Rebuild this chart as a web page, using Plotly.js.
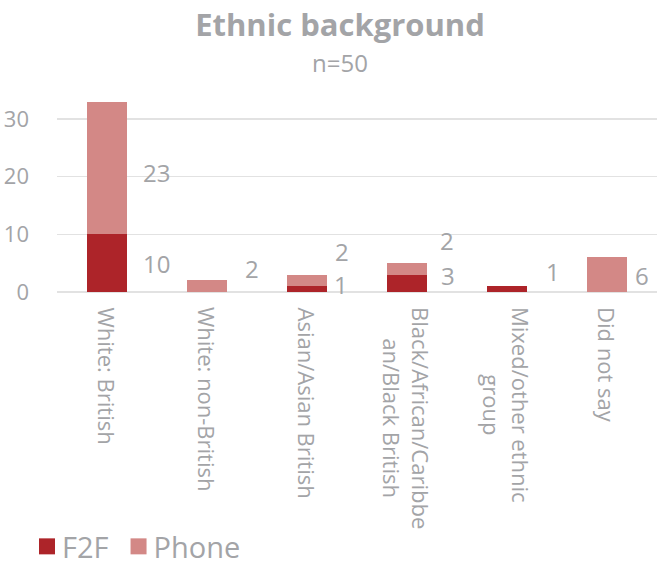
<!DOCTYPE html>
<html>
<head>
<meta charset="utf-8">
<script src="https://cdn.plot.ly/plotly-3.0.1.min.js"></script>
<style>html,body{margin:0;padding:0;background:#fff;}#chart{width:657px;height:572px;}</style>
</head>
<body>
<div id="chart"></div>
<script>
// ---- data ----
const categories = ['White: British', 'White: non-British', 'Asian/Asian British', 'Black/African/Caribbe<br>an/Black British', 'Mixed/other ethnic<br>group', 'Did not say'];
const f2fValues = [10, 0, 1, 3, 1, 0];
const phoneValues = [23, 2, 2, 2, 0, 6];
const seriesNames = ['F2F', 'Phone'];
const yTickValues = [0, 10, 20, 30];
const titleText = 'Ethnic background';
const subtitleText = 'n=50';

// ---- style ----
const FONT = '"Open Sans", "DejaVu Sans", sans-serif';
const GRAY = '#a3a4a7';
const F2F_COLOR = '#ad2429';
const PHONE_COLOR = '#d38886';
// manual nudges (px) for data labels, mimicking the reference placement
const f2fShift = [[49, 0], [0, 0], [34, 5], [41, 8], [46, 18], [0, 0]];
const phoneShift = [[49, -5], [45, 18], [35, 29], [40, 28], [0, 0], [35, -1]];

const traces = [
  {type: 'bar', name: seriesNames[0], x: categories, y: f2fValues, marker: {color: F2F_COLOR}, hoverinfo: 'skip'},
  {type: 'bar', name: seriesNames[1], x: categories, y: phoneValues, marker: {color: PHONE_COLOR}, hoverinfo: 'skip'}
];

const annotations = [];
// category labels (rotated, lines centred)
categories.forEach(c => {
  annotations.push({x: c, xref: 'x', y: 0, yref: 'paper', yshift: -13, text: c, textangle: 90,
    xanchor: 'center', yanchor: 'top', align: 'center', showarrow: false,
    font: {family: FONT, size: 22, color: GRAY}});
});
// data labels
categories.forEach((c, i) => {
  if (f2fValues[i] > 0) {
    annotations.push({x: c, y: f2fValues[i] / 2, text: String(f2fValues[i]), showarrow: false,
      xshift: f2fShift[i][0], yshift: f2fShift[i][1], font: {family: FONT, size: 24, color: GRAY}});
  }
  if (phoneValues[i] > 0) {
    annotations.push({x: c, y: f2fValues[i] + phoneValues[i] / 2, text: String(phoneValues[i]), showarrow: false,
      xshift: phoneShift[i][0], yshift: phoneShift[i][1], font: {family: FONT, size: 24, color: GRAY}});
  }
});
annotations.push({x: (340 - 57) / 600, xref: 'paper', y: (293 - 62) / 203, yref: 'paper', text: subtitleText, showarrow: false,
  xanchor: 'center', yanchor: 'middle', font: {family: FONT, size: 24, color: GRAY}});

const layout = {
  width: 657, height: 572,
  margin: {l: 57, r: 0, t: 90, b: 279, pad: 0},
  paper_bgcolor: '#fff', plot_bgcolor: '#fff',
  barmode: 'stack', bargap: 0.6,
  title: {text: titleText, x: 340 / 657, xref: 'container', xanchor: 'center', y: 1 - 25 / 572, yref: 'container', yanchor: 'middle',
    font: {family: FONT, size: 31, color: GRAY, weight: 'bold'}},
  xaxis: {type: 'category', showticklabels: false, showgrid: false, zeroline: false, showline: false, ticks: '', fixedrange: true},
  yaxis: {range: [0, 35], tickvals: yTickValues, showgrid: true, gridcolor: '#e2e2e2', gridwidth: 1.5,
    zeroline: true, zerolinecolor: '#e2e2e2', zerolinewidth: 1.5, showline: false, ticks: '',
    ticklabelstandoff: 27, tickfont: {family: FONT, size: 22, color: GRAY}, fixedrange: true},
  legend: {orientation: 'h', x: (22 - 57) / 600, xanchor: 'left', y: (293 - 549) / 203, yanchor: 'middle',
    font: {family: FONT, size: 29, color: GRAY}, traceorder: 'normal'},
  showlegend: true,
  annotations: annotations
};

Plotly.newPlot('chart', traces, layout, {displayModeBar: false, staticPlot: true}).then(() => {
  document.querySelectorAll('.legend .legendpoints path').forEach(p => {
    p.setAttribute('d', 'M13,8H-3V-8H13Z');
  });
});
</script>
</body>
</html>
